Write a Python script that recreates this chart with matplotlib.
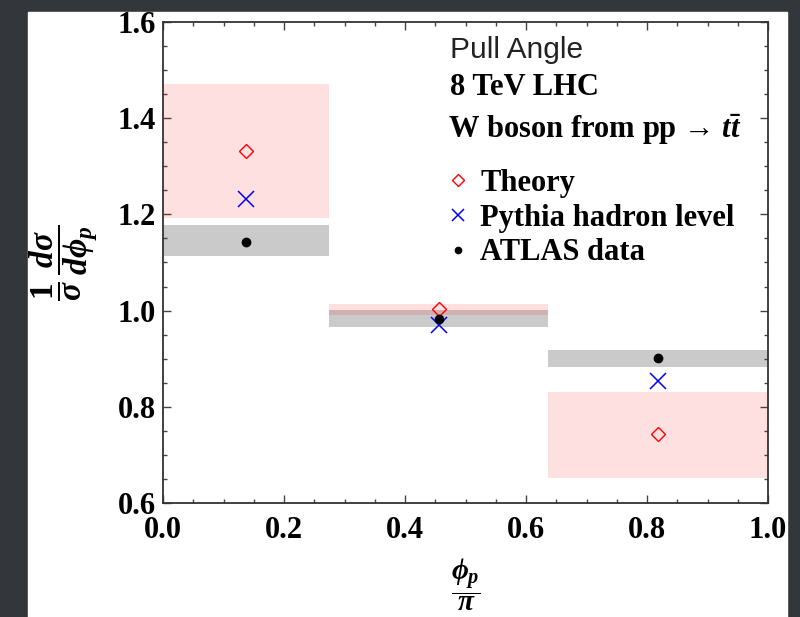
import numpy as np
import matplotlib
matplotlib.use('Agg')
import matplotlib.pyplot as plt
from matplotlib.patches import Rectangle

plt.rcParams['mathtext.fontset'] = 'custom'
plt.rcParams['mathtext.rm'] = 'Liberation Serif:bold'
plt.rcParams['mathtext.it'] = 'Liberation Serif:italic:bold'
plt.rcParams['mathtext.bf'] = 'Liberation Serif:bold'

# bins in phi_p / pi
bin_edges = [0.0, 0.275, 0.637, 1.0]

theory = [1.332, 1.004, 0.743]
theory_lo = [1.192, 0.991, 0.651]
theory_hi = [1.471, 1.013, 0.831]

pythia = [1.232, 0.970, 0.854]

atlas = [1.143, 0.983, 0.901]
atlas_lo = [1.113, 0.965, 0.883]
atlas_hi = [1.178, 1.001, 0.918]

edges = np.array(bin_edges)
centers = (edges[:-1] + edges[1:]) / 2
widths = np.diff(edges)

fig = plt.figure(figsize=(8, 6.17), dpi=100)
fig.patch.set_facecolor('#33373b')
fig.patches.append(Rectangle((28/800, 0), (787-28)/800, (617-12)/617,
                             transform=fig.transFigure, color='white', zorder=-5))

ax = fig.add_axes([163/800, (617-503)/617, (768-163)/800, (503-22)/617])

serif = 'Liberation Serif'

# bands
ax.bar(edges[:-1], np.array(atlas_hi) - np.array(atlas_lo), width=widths,
       bottom=atlas_lo, align='edge', color='#cacaca', lw=0, zorder=1)
ax.bar(edges[:-1], np.array(theory_hi) - np.array(theory_lo), width=widths,
       bottom=theory_lo, align='edge', color='red', alpha=0.12, lw=0, zorder=2)

h1, = ax.plot(centers, theory, ls='none', marker='D', ms=7.5, mfc='none',
              mec='red', mew=1.0, zorder=5, label='Theory')
h2, = ax.plot(centers, pythia, ls='none', marker='x', ms=12, color='blue',
              mew=1.1, zorder=4, label='Pythia hadron level')
h3, = ax.plot(centers, atlas, ls='none', marker='o', ms=6, color='black',
              zorder=6, label='ATLAS data')

ax.set_xlim(0, 1)
ax.set_ylim(0.6, 1.6)
ax.set_xticks(np.arange(0, 1.01, 0.2))
ax.set_yticks(np.arange(0.6, 1.61, 0.2))
ax.set_xticks(np.arange(0, 1.001, 0.05), minor=True)
ax.set_yticks(np.arange(0.6, 1.601, 0.05), minor=True)
ax.xaxis.set_major_formatter(plt.FormatStrFormatter('%.1f'))
ax.yaxis.set_major_formatter(plt.FormatStrFormatter('%.1f'))
ax.tick_params(which='both', direction='in', top=True, right=True, width=1.0,
               color='#444444')
ax.tick_params(which='major', length=6)
ax.tick_params(which='minor', length=3)
ax.tick_params(axis='x', pad=9)
ax.tick_params(axis='y', pad=5)
for lab in ax.get_xticklabels() + ax.get_yticklabels():
    lab.set_fontfamily(serif)
    lab.set_fontweight('bold')
    lab.set_fontsize(22)
for s in ax.spines.values():
    s.set_linewidth(1.3)
    s.set_color('#333333')

ax.set_ylabel(r'$\dfrac{1}{\sigma}\,\dfrac{d\sigma}{d\phi_p}$', fontsize=24)
ax.yaxis.set_label_coords(-0.104, 0.5)
ax.set_xlabel(r'$\dfrac{\phi_p}{\pi}$', fontsize=21)
ax.xaxis.set_label_coords(0.5, -0.112)

ax.text(0.474, 0.942, 'Pull Angle', transform=ax.transAxes, va='center',
        fontsize=21.5, fontfamily='Liberation Sans', color='#222222')
ax.text(0.474, 0.863, '8 TeV LHC', transform=ax.transAxes, va='center',
        fontsize=22, fontfamily=serif, fontweight='bold')
ax.text(0.471, 0.776, 'W boson from pp \u2192 $t\\bar{t}$',
        transform=ax.transAxes, va='center', fontsize=22, fontfamily=serif,
        fontweight='bold')

ax.legend(handles=[h1, h2, h3], loc='upper left', bbox_to_anchor=(0.468, 0.695),
          frameon=False, borderaxespad=0, borderpad=0, handlelength=0.8,
          handletextpad=0.31, labelspacing=0.19, markerscale=0.75,
          prop={'family': serif, 'weight': 'bold', 'size': 22})

fig.savefig('out.png', dpi=100, facecolor=fig.get_facecolor())
